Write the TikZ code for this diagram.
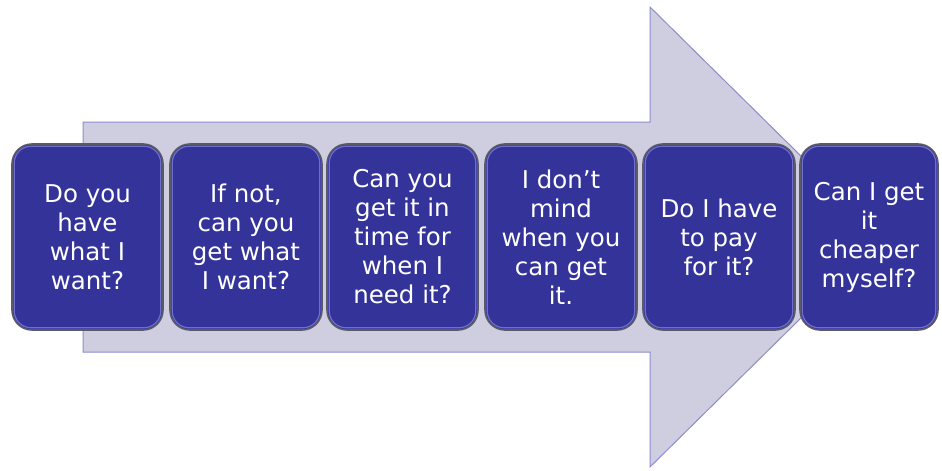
\documentclass[tikz,border=0pt]{standalone}
\usepackage{fontspec}
\newfontfamily\boxfont{DejaVu Sans}
\definecolor{arrowfill}{RGB}{206,206,224}
\definecolor{arrowline}{RGB}{140,140,206}
\definecolor{boxfill}{RGB}{51,51,153}
\definecolor{boxline}{RGB}{90,90,100}
\definecolor{boxglow}{RGB}{110,110,210}
\begin{document}
\begin{tikzpicture}[x=1pt,y=-1pt,
  qbox/.style={draw=boxline, line width=1.6pt, fill=boxfill, rounded corners=20pt,
    minimum height=186pt, inner sep=0pt, align=center, text=white,
    font=\boxfont\fontsize{24.5}{29}\selectfont},
  qglow/.style={draw=boxglow, line width=1.2pt, rounded corners=17pt}]
\useasboundingbox (0,0) rectangle (942,471);
% big arrow
\draw[fill=arrowfill, draw=arrowline, line width=1pt]
  (83,122) -- (650,122) -- (650,7) -- (883,237) -- (650,467) -- (650,352) -- (83,352) -- cycle;
% boxes
\node[qbox, minimum width=151pt] (b1) at (87.5,237) {Do you\\have\\what I\\want?};
\node[qbox, minimum width=152pt] (b2) at (246,237) {If not,\\can you\\get what\\I want?};
\node[qbox, minimum width=151pt] (b3) at (402.5,237) {Can you\\get it in\\time for\\when I\\need it?};
\node[qbox, minimum width=152pt] (b4) at (561,237) {I don’t\\mind\\when you\\can get\\it.};
\node[qbox, minimum width=152pt] (b5) at (719,237) {Do I have\\to pay\\for it?};
\node[qbox, minimum width=138pt] (b6) at (869,237) {Can I get\\it\\cheaper\\myself?};
% inner highlight rims
\foreach \b in {b1,b2,b3,b4,b5,b6}{
  \draw[qglow] ([shift={(3,3)}]\b.north west) rectangle ([shift={(-3,-3)}]\b.south east);
}
\end{tikzpicture}
\end{document}
